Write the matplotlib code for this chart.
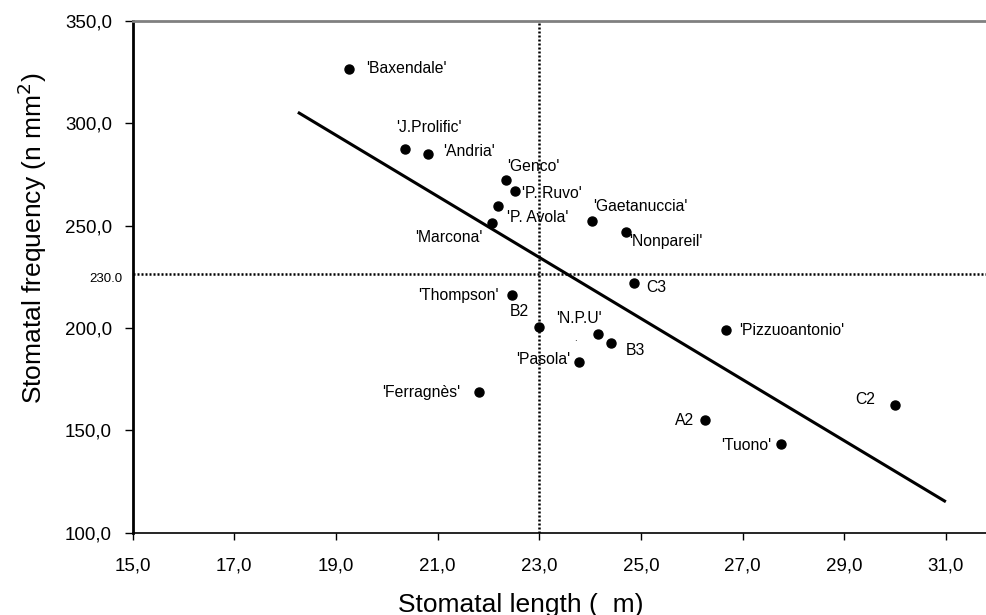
import matplotlib.pyplot as plt
from matplotlib.ticker import FuncFormatter

plt.rcParams['font.family'] = ['Liberation Sans', 'DejaVu Sans']

# cultivars: stomatal length (um) and stomatal frequency (n mm-2)
names = ["'Baxendale'", "'J.Prolific'", "'Andria'", "'Genco'", "'P. Ruvo'",
         "'P. Avola'", "'Marcona'", "'Gaetanuccia'", "'Nonpareil'", "C3",
         "'Thompson'", "B2", "'N.P.U'", "B3", "'Pasola'", "'Ferragnès'",
         "A2", "'Pizzuoantonio'", "C2", "'Tuono'"]
length = [19.26, 20.36, 20.81, 22.34, 22.52, 22.18, 22.07, 24.03, 24.70, 24.87,
          22.46, 23.00, 24.15, 24.42, 23.79, 21.81, 26.26, 26.67, 29.99, 27.76]
freq = [326.4, 287.2, 285.1, 272.1, 266.8, 259.5, 251.2, 252.2, 247.0, 221.9,
        216.1, 200.6, 197.2, 192.5, 183.2, 168.7, 154.8, 199.0, 162.5, 143.3]

# regression line end points
fit_x = [18.25, 31.0]
fit_y = [305.3, 115.1]

# reference lines
ref_x = 23.0
ref_y = 226.3
ref_y_label = '230.0'

xticks = [15, 17, 19, 21, 23, 25, 27, 29, 31]
yticks = [100, 150, 200, 250, 300, 350]

# label placement (ha, dx px, dy px)
label_pos = {
    "'Baxendale'": ('left', 17, 1), "'J.Prolific'": ('center', 24, 22),
    "'Andria'": ('left', 15, 2), "'Genco'": ('left', 1, 14),
    "'P. Ruvo'": ('left', 7, -2), "'P. Avola'": ('left', 9, -11),
    "'Marcona'": ('right', -10, -14), "'Gaetanuccia'": ('left', 1, 15),
    "'Nonpareil'": ('left', 3, -10), "C3": ('left', 12, -4),
    "'Thompson'": ('right', -13, -1), "B2": ('right', -10, 15),
    "'N.P.U'": ('right', 4, 15), "B3": ('left', 14, -7),
    "'Pasola'": ('right', -9, 3), "'Ferragnès'": ('right', -19, 0),
    "A2": ('right', -11, 0), "'Pizzuoantonio'": ('left', 13, -1),
    "C2": ('right', -19, 5), "'Tuono'": ('right', -10, -1),
}

fig = plt.figure(figsize=(9.86, 6.15), dpi=100)
ax = fig.add_axes([0.1346, 0.1338, 1 - 0.1346, 0.8325])

ax.plot(fit_x, fit_y, color='black', lw=2.2, solid_capstyle='butt')
ax.axvline(ref_x, color='black', lw=1.8, linestyle=(0, (0.8, 0.8)))
ax.axhline(ref_y, color='black', lw=1.8, linestyle=(0, (0.8, 0.8)))
ax.plot(length, freq, 'o', color='black', markersize=6.5, linestyle='none')

for n, x, y in zip(names, length, freq):
    ha, dx, dy = label_pos[n]
    ax.annotate(n, (x, y), xytext=(dx, dy), textcoords='offset pixels',
                ha=ha, va='center', fontsize=11.3)

# stray dot in the original
ax.annotate('.', (23.72, 193.6), ha='center', va='baseline', fontsize=7)

ax.annotate(ref_y_label, (0, ref_y), xycoords=('axes fraction', 'data'),
            xytext=(-10.5, -5), textcoords='offset pixels',
            ha='right', va='center', fontsize=9.5)

ax.set_xlim(15, 31.79)
ax.set_ylim(100, 350)
ax.set_xticks(xticks)
ax.set_yticks(yticks)
fmt = FuncFormatter(lambda v, p: f'{v:.1f}'.replace('.', ','))
ax.xaxis.set_major_formatter(fmt)
ax.yaxis.set_major_formatter(fmt)
ax.tick_params(axis='y', direction='out', length=6, width=1, pad=9, labelsize=13.5)
ax.tick_params(axis='x', direction='out', length=5, width=1, pad=12.5, labelsize=13.5)

ax.spines['right'].set_visible(False)
ax.spines['top'].set_color('#808080')
ax.spines['top'].set_linewidth(2)
ax.spines['left'].set_linewidth(2)
ax.spines['bottom'].set_linewidth(1.2)

fig.text(521 / 986, 1 - 611.7 / 615, 'Stomatal length (  m)', ha='center',
         va='baseline', fontsize=19)
fig.text(32 / 986, 1 - 238.6 / 615, 'Stomatal frequency (n mm$^2$)',
         rotation=90, ha='center', va='center', fontsize=19)

fig.savefig('out.png', dpi=100)
